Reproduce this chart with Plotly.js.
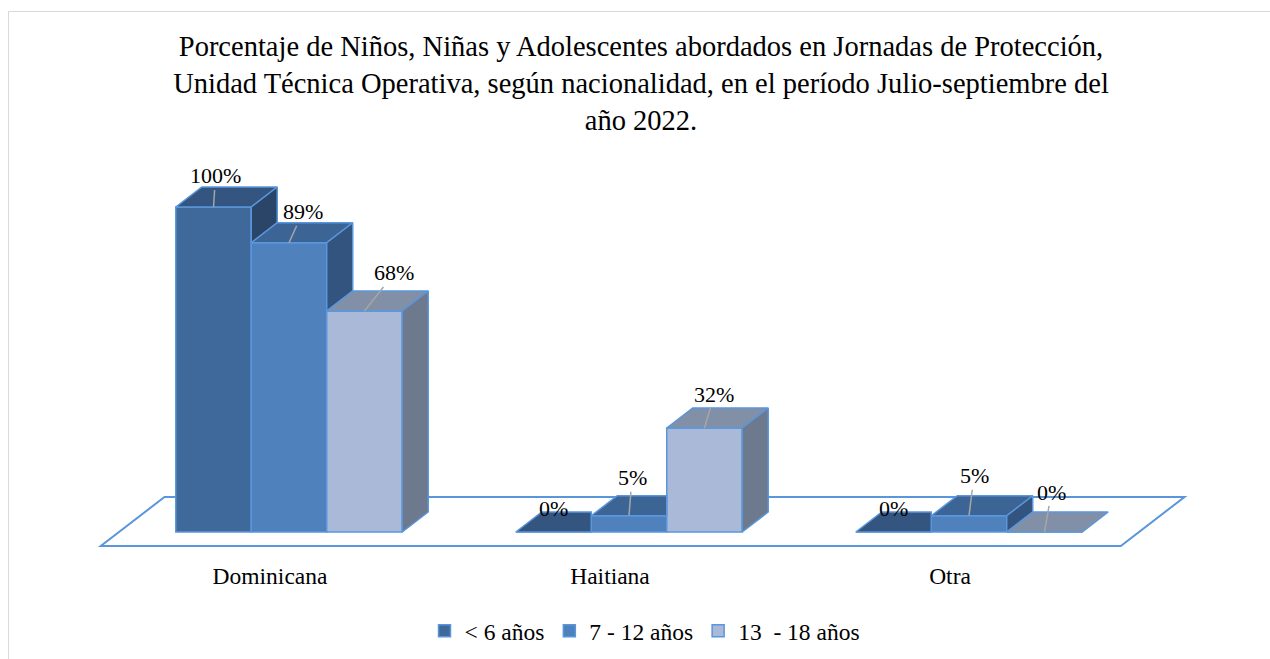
<!DOCTYPE html>
<html>
<head>
<meta charset="utf-8">
<script src="https://cdn.plot.ly/plotly-3.0.1.min.js"></script>
<style>
  html, body { margin: 0; padding: 0; background: #ffffff; }
  #chart { width: 1270px; height: 659px; }
</style>
</head>
<body>
<div id="chart"></div>
<script>
// ---------------- data ----------------
const categories = ['Dominicana', 'Haitiana', 'Otra'];
const seriesNames = ['< 6 años', '7 - 12 años', '13\u00a0 - 18 años'];
const menores6 = [100, 0, 0];
const de7a12 = [89, 5, 5];
const de13a18 = [68, 32, 0];
const seriesValues = [menores6, de7a12, de13a18];

// ---------------- style ----------------
const FONT = '"Liberation Serif", "Times New Roman", Times, serif';
const frontColors = ['#40699b', '#4f81bd', '#aab9d7'];
const topColors   = ['#34557f', '#3c6595', '#8190a6'];
const sideColors  = ['#2b4568', '#33547f', '#6d798c'];
const EDGE = '#5a96dc';
const LEADER = '#a6a6a6';

const W = 1270, H = 659;
const M = {l: 34, r: 46, t: 148, b: 100, autoexpand: false};
const X_RANGE = [-0.75, 2.75];
const Y_RANGE = [-8.308, 118.15];
const pxX = (W - M.l - M.r) / (X_RANGE[1] - X_RANGE[0]);
const pxY = (H - M.t - M.b) / (Y_RANGE[1] - Y_RANGE[0]);

const GROUP_W = 0.666;
const BAR_W = GROUP_W / seriesValues.length;
const DX = 26 / pxX;   // depth offset in x units
const DY = 20 / pxY;   // depth offset in y units
const LABEL_SHIFT = -19 / pxX;

// data label offsets (pixels) [series][category]
const labelOffsets = [
  [[2, -31], [0, -24], [0, -24]],
  [[14, -31], [3, -38], [5, -40]],
  [[30, -38], [10, -34], [7, -40]]
];

// paper helpers
const paperX = px => (px - M.l) / (W - M.l - M.r);
const paperY = py => (H - M.b - py) / (H - M.t - M.b);

const traces = [];
const annotations = [];

seriesValues.forEach((vals, j) => {
  const off = -GROUP_W / 2 + j * BAR_W;
  traces.push({
    type: 'bar',
    name: seriesNames[j],
    x: categories.map((c, i) => i),
    y: vals,
    width: BAR_W,
    offset: off,
    marker: {color: frontColors[j], line: {color: EDGE, width: 1.5}},
    hoverinfo: 'skip',
    showlegend: true
  });
});

// depth faces (tops and sides) computed from the values
seriesValues.forEach((vals, j) => {
  const off = -GROUP_W / 2 + j * BAR_W;
  const nextVals = seriesValues[j + 1];
  const tx = [], ty = [], sx = [], sy = [];
  vals.forEach((v, i) => {
    const xl = i + off, xr = xl + BAR_W;
    const nv = nextVals ? nextVals[i] : null;
    if (nv !== null && nv > v) {
      tx.push(xl, xr, xr, xl + DX, xl, null);
      ty.push(v, v, v + DY, v + DY, v, null);
    } else {
      tx.push(xl, xr, xr + DX, xl + DX, xl, null);
      ty.push(v, v, v + DY, v + DY, v, null);
    }
    const lower = nv !== null ? Math.max(nv, 0) : 0;
    if (v > lower) {
      sx.push(xr, xr, xr + DX, xr + DX, xr, null);
      sy.push(lower, v, v + DY, lower + DY, lower, null);
    }
  });
  traces.push({
    type: 'scatter', mode: 'lines', x: tx, y: ty, fill: 'toself',
    fillcolor: topColors[j], line: {color: EDGE, width: 1.5},
    hoverinfo: 'skip', showlegend: false
  });
  if (sx.length) {
    traces.push({
      type: 'scatter', mode: 'lines', x: sx, y: sy, fill: 'toself',
      fillcolor: sideColors[j], line: {color: EDGE, width: 1.5},
      hoverinfo: 'skip', showlegend: false
    });
  }
  vals.forEach((v, i) => {
    const o = labelOffsets[j][i];
    const showLeader = Math.hypot(o[0], o[1]) > 28;
    annotations.push({
      x: i + off + BAR_W / 2, y: v, xref: 'x', yref: 'y',
      text: v + '%', showarrow: true, arrowhead: 0, standoff: 0,
      arrowwidth: 1.5,
      arrowcolor: showLeader ? LEADER : 'rgba(0,0,0,0)',
      ax: o[0], ay: o[1],
      font: {family: FONT, size: 22, color: '#000000'}
    });
  });
});

// floor of the 3D plot
const F_FRONT = -0.7, F_BACK = 1.75;
const FX0 = -0.5, FX1 = categories.length - 0.5;
const fl = [
  [FX0 + F_FRONT * DX, F_FRONT * DY],
  [FX1 + F_FRONT * DX, F_FRONT * DY],
  [FX1 + F_BACK * DX, F_BACK * DY],
  [FX0 + F_BACK * DX, F_BACK * DY]
];
const floorPath = 'M' + fl.map(p => p[0] + ',' + p[1]).join(' L') + ' Z';

const layout = {
  width: W, height: H, autosize: false,
  margin: M,
  paper_bgcolor: '#ffffff', plot_bgcolor: 'rgba(0,0,0,0)',
  font: {family: FONT, color: '#000000'},
  title: {
    text: 'Porcentaje de Niños, Niñas y Adolescentes abordados en Jornadas de Protección,<br>Unidad Técnica Operativa, según nacionalidad, en el período Julio-septiembre del<br>año 2022.',
    font: {family: FONT, size: 28.5, color: '#000000'},
    x: 641 / W, xanchor: 'center', xref: 'container',
    y: 1 - 56 / H, yanchor: 'top', yref: 'container'
  },
  barmode: 'overlay',
  xaxis: {
    range: X_RANGE, showgrid: false, zeroline: false, showline: false,
    ticks: '', tickvals: categories.map((c, i) => i + LABEL_SHIFT),
    ticktext: categories, tickfont: {family: FONT, size: 23.5, color: '#000000'},
    fixedrange: true, automargin: false
  },
  yaxis: {
    range: Y_RANGE, showgrid: false, zeroline: false, showline: false,
    showticklabels: false, ticks: '', fixedrange: true, automargin: false
  },
  legend: {
    orientation: 'h', x: paperX(645), xanchor: 'center',
    y: paperY(631), yanchor: 'middle',
    font: {family: FONT, size: 23.5, color: '#000000'},
    traceorder: 'normal'
  },
  shapes: [
    {type: 'path', xref: 'x', yref: 'y', path: floorPath, layer: 'below',
     line: {color: EDGE, width: 2}, fillcolor: 'rgba(0,0,0,0)'},
    {type: 'rect', xref: 'paper', yref: 'paper', layer: 'below',
     x0: paperX(8.5), x1: paperX(1300), y0: paperY(700), y1: paperY(11.5),
     line: {color: '#d9d9d9', width: 1}, fillcolor: 'rgba(0,0,0,0)'}
  ],
  annotations: annotations,
  showlegend: true
};

Plotly.newPlot('chart', traces, layout, {displayModeBar: false, staticPlot: true});
</script>
</body>
</html>
